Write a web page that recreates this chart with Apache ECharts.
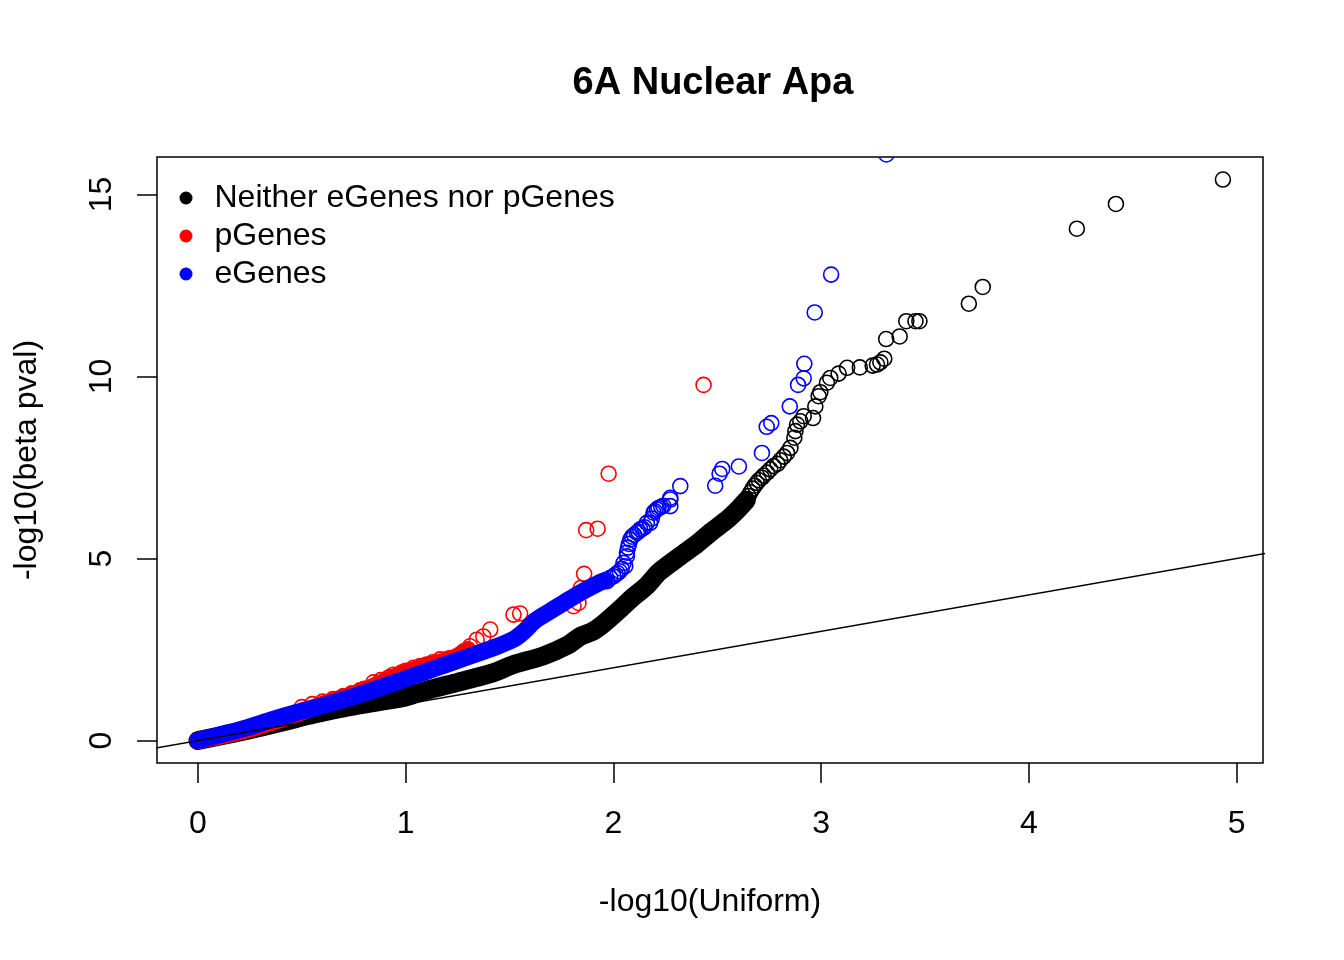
<!DOCTYPE html>
<html>
<head>
<meta charset="utf-8">
<script src="https://cdn.jsdelivr.net/npm/echarts@6/dist/echarts.min.js"></script>
<style>
html,body{margin:0;padding:0;background:#fff;}
#chart{width:1344px;height:960px;}
</style>
</head>
<body>
<div id="chart"></div>
<script>
// ---- Data ----
const chartTitle = '6A Nuclear Apa';
const xAxisTitle = '-log10(Uniform)';
const yAxisTitle = '-log10(beta pval)';
const legendNames = ['Neither eGenes nor pGenes', 'pGenes', 'eGenes'];
const xTicks = [0, 1, 2, 3, 4, 5];
const yTicks = [0, 5, 10, 15];

// Neither: dense part (drawn as solid band) and sparse tail
const blackBandX = [0, 0.1, 0.234, 0.4, 0.555, 0.7, 0.85, 1.0, 1.1, 1.25, 1.42, 1.52, 1.66, 1.78, 1.84, 1.9, 1.95, 2.03, 2.09, 2.16, 2.22, 2.31, 2.39, 2.47, 2.55, 2.6, 2.64];
const blackBandY = [0, 0.12, 0.28, 0.5, 0.72, 0.9, 1.05, 1.2, 1.38, 1.6, 1.86, 2.09, 2.32, 2.62, 2.86, 3.0, 3.2, 3.6, 3.92, 4.25, 4.63, 5.02, 5.35, 5.73, 6.08, 6.35, 6.6];
const blackTailX = [2.62, 2.64, 2.65, 2.66, 2.67, 2.68, 2.69, 2.70, 2.715, 2.723, 2.74, 2.755, 2.771, 2.79, 2.803, 2.82, 2.836, 2.852, 2.871, 2.876, 2.884, 2.90, 2.916, 2.961, 2.972, 2.988, 2.996, 3.028, 3.044, 3.084, 3.125, 3.186, 3.248, 3.269, 3.285, 3.304, 3.313, 3.378, 3.41, 3.454, 3.473, 3.711, 3.778, 4.231, 4.419, 4.934];
const blackTailY = [6.5, 6.62, 6.72, 6.82, 6.92, 7.0, 7.08, 7.15, 7.22, 7.28, 7.36, 7.45, 7.54, 7.6, 7.7, 7.8, 7.9, 8.04, 8.32, 8.5, 8.68, 8.77, 8.91, 8.86, 9.18, 9.46, 9.57, 9.83, 9.96, 10.08, 10.24, 10.25, 10.3, 10.33, 10.39, 10.49, 11.03, 11.1, 11.52, 11.52, 11.52, 12.0, 12.46, 14.06, 14.74, 15.41];

// pGenes
const redBandX = [0, 0.2, 0.45, 0.6, 0.8, 0.95, 1.1, 1.22, 1.3];
const redBandY = [0, 0.24, 0.68, 1.0, 1.38, 1.76, 2.06, 2.24, 2.5];
const redX = [0.5, 0.55, 0.6, 0.65, 0.7, 0.74, 0.78, 0.8, 0.845, 0.88, 0.92, 0.941, 0.98, 1.0, 1.037, 1.07, 1.101, 1.13, 1.166, 1.2, 1.214, 1.25, 1.28, 1.31, 1.342, 1.374, 1.407, 1.519, 1.551, 1.808, 1.832, 1.843, 1.859, 1.869, 1.924, 1.977, 2.434];
const redY = [0.92, 1.0, 1.07, 1.14, 1.22, 1.3, 1.38, 1.42, 1.6, 1.66, 1.74, 1.81, 1.87, 1.92, 2.0, 2.05, 2.09, 2.15, 2.23, 2.24, 2.27, 2.3, 2.45, 2.59, 2.77, 2.86, 3.05, 3.46, 3.49, 3.69, 3.78, 4.19, 4.58, 5.78, 5.82, 7.33, 9.77];

// eGenes
const blueBandX = [0, 0.1, 0.234, 0.35, 0.475, 0.6, 0.716, 0.85, 0.98, 1.1, 1.2, 1.3, 1.4, 1.48, 1.53, 1.57, 1.62, 1.68, 1.76, 1.84, 1.92, 1.96];
const blueBandY = [0, 0.15, 0.35, 0.56, 0.77, 0.96, 1.15, 1.4, 1.66, 1.9, 2.1, 2.3, 2.5, 2.68, 2.82, 3.0, 3.28, 3.5, 3.78, 4.06, 4.3, 4.4];
const blueX = [1.97, 1.985, 2.0, 2.01, 2.02, 2.03, 2.04, 2.049, 2.057, 2.065, 2.065, 2.07, 2.075, 2.081, 2.09, 2.1, 2.113, 2.12, 2.129, 2.14, 2.15, 2.161, 2.177, 2.185, 2.193, 2.2, 2.21, 2.217, 2.23, 2.24, 2.274, 2.274, 2.274, 2.322, 2.49, 2.511, 2.524, 2.604, 2.715, 2.738, 2.76, 2.849, 2.889, 2.916, 2.919, 2.969, 3.048];
const blueY = [4.38, 4.47, 4.51, 4.56, 4.6, 4.65, 4.72, 4.88, 4.79, 5.06, 5.16, 5.3, 5.4, 5.52, 5.6, 5.65, 5.71, 5.74, 5.8, 5.82, 5.86, 5.98, 5.98, 6.1, 6.26, 6.3, 6.35, 6.39, 6.42, 6.45, 6.44, 6.62, 6.67, 6.99, 7.0, 7.33, 7.46, 7.53, 7.9, 8.62, 8.72, 9.18, 9.77, 9.95, 10.35, 11.76, 12.8];
const blueClipX = [3.314];
const blueClipY = [16.1];

// reference line y = x
const refLineX = [-1, 6];
const refLineY = [-1, 6];

// ---- Chart ----
const FONT = 'Liberation Sans, Arial, Helvetica, sans-serif';
const zip = (xs, ys) => xs.map((x, i) => [x, ys[i]]);
const C_BLACK = '#000000', C_RED = '#ff0000', C_BLUE = '#0000ff';
const SYM = 15, BW = 1.6;

function band(name, xs, ys, color, width) {
  return {
    name: name, type: 'line', data: zip(xs, ys), showSymbol: false, symbol: 'none',
    clip: true, silent: true, smooth: 0.25,
    lineStyle: { color: color, width: width, cap: 'round', join: 'round', opacity: 1 },
    emphasis: { disabled: true }
  };
}
function pts(name, xs, ys, color) {
  return {
    name: name, type: 'scatter', data: zip(xs, ys), symbol: 'circle', symbolSize: SYM,
    itemStyle: { color: 'rgba(0,0,0,0)', borderColor: color, borderWidth: BW, opacity: 1 },
    emphasis: { disabled: true }, silent: true
  };
}

const chart = echarts.init(document.getElementById('chart'), null, { renderer: 'canvas' });
chart.setOption({
  animation: false,
  backgroundColor: '#ffffff',
  title: {
    text: chartTitle, left: 708, top: 60, textAlign: 'center',
    textStyle: { fontFamily: FONT, fontSize: 38, fontWeight: 'bold', color: '#000' }
  },
  legend: {
    orient: 'vertical', left: 179.5, top: 182, padding: 0, itemGap: 6,
    itemWidth: 13, itemHeight: 13, selectedMode: false,
    textStyle: { fontFamily: FONT, fontSize: 32, color: '#000', lineHeight: 32, padding: [0, 0, 0, 17] },
    data: [
      { name: legendNames[0], icon: 'circle', itemStyle: { color: C_BLACK, borderWidth: 0, opacity: 1 } },
      { name: legendNames[1], icon: 'circle', itemStyle: { color: C_RED, borderWidth: 0, opacity: 1 } },
      { name: legendNames[2], icon: 'circle', itemStyle: { color: C_BLUE, borderWidth: 0, opacity: 1 } }
    ]
  },
  grid: {
    left: 157, right: 81, top: 157, bottom: 197, show: true,
    borderColor: '#000', borderWidth: 1.5, backgroundColor: 'rgba(0,0,0,0)'
  },
  xAxis: {
    type: 'value', min: -0.197, max: 5.127,
    axisLine: { show: false, onZero: false }, splitLine: { show: false },
    axisTick: { show: true, customValues: xTicks, length: 20, lineStyle: { color: '#000', width: 1.5 } },
    axisLabel: { customValues: xTicks, margin: 45, fontFamily: FONT, fontSize: 32, color: '#000' },
    name: xAxisTitle, nameLocation: 'middle', nameGap: 123,
    nameTextStyle: { fontFamily: FONT, fontSize: 32, color: '#000' }
  },
  yAxis: {
    type: 'value', min: -0.616, max: 16.03,
    axisLine: { show: false, onZero: false }, splitLine: { show: false },
    axisTick: { show: true, customValues: yTicks, length: 20, lineStyle: { color: '#000', width: 1.5 } },
    axisLabel: { customValues: yTicks, rotate: 90, margin: 39, fontFamily: FONT, fontSize: 32, color: '#000' },
    name: yAxisTitle, nameLocation: 'middle', nameGap: 114,
    nameTextStyle: { fontFamily: FONT, fontSize: 32, color: '#000' }
  },
  series: [
    band('band-neither', blackBandX, blackBandY, C_BLACK, 19),
    pts(legendNames[0], blackTailX, blackTailY, C_BLACK),
    band('band-p', redBandX, redBandY, C_RED, 17),
    pts(legendNames[1], redX, redY, C_RED),
    band('band-e', blueBandX, blueBandY, C_BLUE, 17),
    pts(legendNames[2], blueX, blueY, C_BLUE),
    {
      name: 'e-clipped', type: 'custom', coordinateSystem: 'cartesian2d', clip: true, silent: true,
      data: zip(blueClipX, blueClipY),
      renderItem: function (params, api) {
        const p = api.coord([api.value(0), api.value(1)]);
        return { type: 'circle', shape: { cx: p[0], cy: p[1], r: SYM / 2 },
                 style: { fill: 'none', stroke: C_BLUE, lineWidth: BW } };
      }
    },
    {
      name: 'diag', type: 'line', data: zip(refLineX, refLineY), showSymbol: false, symbol: 'none',
      clip: true, silent: true, lineStyle: { color: '#000', width: 1.5 }, emphasis: { disabled: true }
    }
  ]
});
</script>
</body>
</html>
